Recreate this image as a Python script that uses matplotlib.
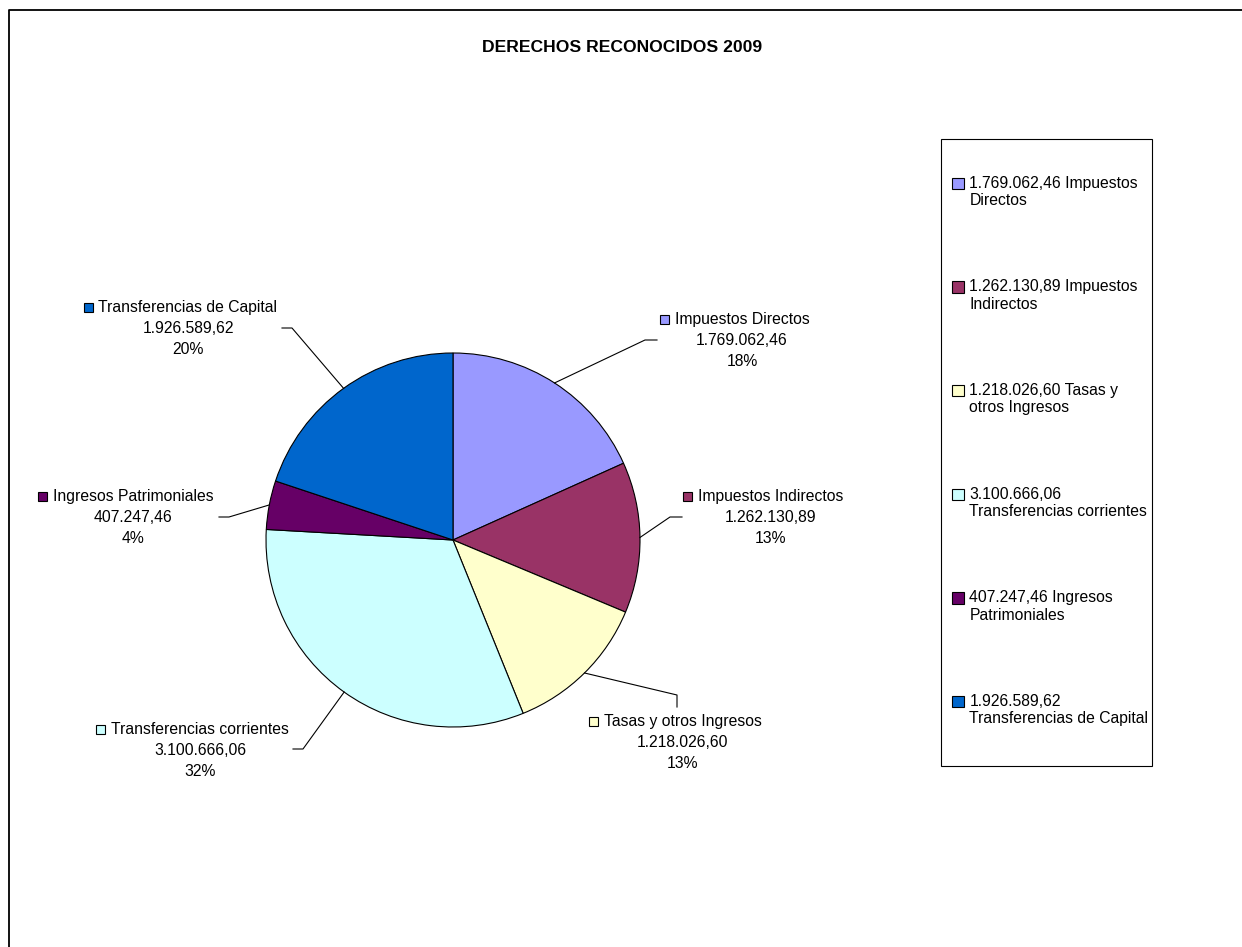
import textwrap
import numpy as np
import matplotlib.pyplot as plt
from matplotlib.patches import Rectangle
from matplotlib.legend_handler import HandlerPatch

plt.rcParams['font.family'] = ['Liberation Sans', 'DejaVu Sans']

W, H = 1242, 947

categories = ["Impuestos Directos", "Impuestos Indirectos", "Tasas y otros Ingresos",
              "Transferencias corrientes", "Ingresos Patrimoniales", "Transferencias de Capital"]
amounts = [1769062.46, 1262130.89, 1218026.60, 3100666.06, 407247.46, 1926589.62]
colors = ["#9999FF", "#993366", "#FFFFCC", "#CCFFFF", "#660066", "#0066CC"]

# label block layout in pixels from the top-left corner: text centre / first line,
# leader elbow and leader end
label_pos = [(742, 319), (771, 496), (683, 721), (200, 729), (133, 496), (188, 307)]
leader_elbow = [(645, 340), (670, 517), (677, 695), (303, 749), (229, 517), (292, 328)]
leader_end = [(657, 340), (682, 517), (677, 707), (293, 749), (219, 517), (282, 328)]

FS = 11.3
CX, CY, R = 453, 540, 187


def es(v):
    s = f"{v:,.2f}"
    return s.replace(",", "X").replace(".", ",").replace("X", ".")


def px(x, y):
    return x, H - y


def top_square(legend, orig_handle, xdescent, ydescent, width, height, fontsize):
    # square key aligned with the first line of a two-line entry
    return Rectangle((-xdescent, -ydescent + 0.58 * fontsize), width, height)


fig = plt.figure(figsize=(W / 100, H / 100), dpi=100)
ax = fig.add_axes([0, 0, 1, 1])

wedges, _ = ax.pie(amounts, colors=colors, startangle=90, counterclock=False,
                   center=px(CX, CY), radius=R,
                   wedgeprops=dict(edgecolor="black", linewidth=0.8))
ax.set_xlim(0, W)
ax.set_ylim(0, H)
ax.axis("off")

total = sum(amounts)
first_lines = []
for i, (w, name, v) in enumerate(zip(wedges, categories, amounts)):
    mid = np.deg2rad((w.theta1 + w.theta2) / 2)
    ex, ey = CX + R * np.cos(mid), CY - R * np.sin(mid)
    xs = [ex, leader_elbow[i][0], leader_end[i][0]]
    ys = [H - ey, H - leader_elbow[i][1], H - leader_end[i][1]]
    ax.plot(xs, ys, color="black", lw=0.8)

    lx, ly = label_pos[i]
    t = ax.text(*px(lx, ly), name, ha="center", va="center", fontsize=FS)
    first_lines.append(t)
    ax.text(*px(lx, ly + 21), es(v), ha="center", va="center", fontsize=FS)
    ax.text(*px(lx, ly + 42), f"{round(100 * v / total)}%", ha="center", va="center", fontsize=FS)

fig.canvas.draw()
rend = fig.canvas.get_renderer()
for t, w, (lx, ly) in zip(first_lines, wedges, label_pos):
    bb = t.get_window_extent(rend)
    ax.add_patch(Rectangle((bb.x0 - 15, H - ly - 4.5), 9, 9, facecolor=w.get_facecolor(),
                           edgecolor="black", lw=0.8))

# legend box
ax.add_patch(Rectangle(px(941, 766), 211, 627, fill=False, edgecolor="black", lw=0.8))
leg_labels = [textwrap.fill(f"{es(v)} {n}", 25) for n, v in zip(categories, amounts)]
leg = ax.legend(wedges, leg_labels, loc="center left", bbox_to_anchor=px(952, 451),
                bbox_transform=ax.transData, frameon=False, fontsize=FS,
                handlelength=0.75, handleheight=0.75, handletextpad=0.35,
                labelspacing=4.54, borderpad=0, borderaxespad=0,
                handler_map={w: HandlerPatch(patch_func=top_square) for w in wedges})
for t in leg.get_texts():
    t.set_linespacing(1.2)

ax.text(*px(622, 47), "DERECHOS RECONOCIDOS 2009", ha="center", va="center",
        fontsize=12.6, fontweight="bold")

# chart area border
ax.plot([9, 9, W + 5], [-5, H - 10, H - 10], color="black", lw=1.3)

fig.savefig("out.png", dpi=100)
